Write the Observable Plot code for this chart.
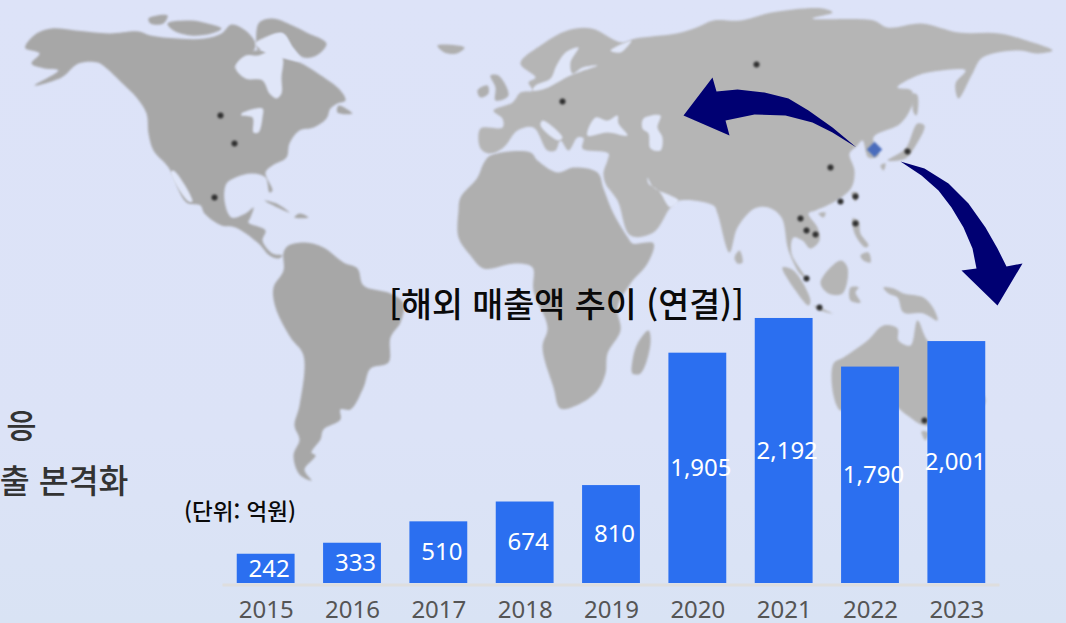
<!DOCTYPE html>
<html lang="ko"><head><meta charset="utf-8">
<script src="https://cdn.jsdelivr.net/npm/d3@7"></script>
<script src="https://cdn.jsdelivr.net/npm/@observablehq/plot@0.6"></script>
<style>
html,body{margin:0;padding:0;width:1066px;height:623px;overflow:hidden;background:linear-gradient(#dde3f8,#dce3f7 70%,#d9e3f4)}
#stage{position:relative;width:1066px;height:623px}
#stage svg{position:absolute;left:0;top:0;background:transparent}
</style></head><body><div id="stage"></div>
<script>
// Chart data
const years = ["2015","2016","2017","2018","2019","2020","2021","2022","2023"];
const sales = [242,333,510,674,810,1905,2192,1790,2001];

// Map outlines (map units)
const northAmerica=[[25,45],[36,33],[51,28],[75,30],[109,33],[138,31],[150,35],[177,38],[204,38],[221,33],[231,24],[245,30],[255,43],[252,52],[238,62],[234,68],[255,50],[282,57],[299,62],[316,72],[340,90],[345,100],[337,103],[330,108],[326,118],[313,127],[299,130],[289,143],[286,157],[272,165],[265,172],[272,190],[269,192],[265,177],[252,173],[235,177],[226,183],[224,200],[231,217],[245,213],[253,207],[250,217],[248,222],[265,230],[262,240],[272,253],[282,255],[278,258],[269,255],[258,243],[235,227],[221,225],[204,213],[200,205],[186,202],[168,167],[153,150],[148,133],[146,113],[136,97],[122,83],[105,67],[97,62],[78,63],[61,77],[34,85],[58,70],[44,68],[31,63],[39,53],[25,48]];
const arcticA=[[148,18],[167,15],[163,23],[150,23]];
const arcticB=[[167,23],[190,20],[207,23],[221,28],[211,33],[190,35],[173,30]];
const baffin=[[258,23],[272,18],[292,25],[306,32],[326,43],[316,55],[303,57],[292,47],[282,33],[269,37],[258,50]];
const newfoundland=[[338,105],[352,113],[337,112]];
const cuba=[[264,200],[276,203],[289,212],[277,207]];
const hispaniola=[[294,217],[299,213],[308,217]];
const southAmerica=[[283,252],[288,245],[305,242],[323,247],[343,262],[357,268],[363,285],[390,293],[403,303],[400,322],[390,337],[388,362],[370,368],[363,387],[350,409],[340,409],[340,419],[323,429],[320,439],[311,452],[315,455],[304,469],[311,480],[299,474],[293,455],[299,439],[294,425],[299,405],[303,355],[290,337],[275,307],[273,287],[283,270]];
const americas={northAmerica,arcticA,arcticB,baffin,newfoundland,cuba,hispaniola,southAmerica};

const iceland=[[437,45],[464,47],[456,53],[444,52]];
const britain=[[490,75],[498,75],[508,95],[495,100],[495,87]];
const ireland=[[477,90],[487,85],[488,93],[480,97]];
const africa=[[460,197],[477,177],[483,163],[490,155],[530,152],[537,160],[557,172],[573,167],[597,172],[603,188],[613,213],[628,238],[632,243],[653,243],[647,263],[630,283],[617,307],[620,330],[607,353],[605,373],[597,390],[580,403],[560,408],[553,387],[542,347],[547,327],[533,290],[532,267],[515,263],[483,268],[470,255],[458,237],[458,210]];
const madagascar=[[648,330],[650,343],[640,373],[632,373],[632,360],[637,343]];
const africaEurope={iceland,britain,ireland,africa,madagascar};

const eurasia=[[480,148],[480,128],[502,127],[502,118],[493,110],[512,102],[520,92],[532,90],[528,82],[535,77],[520,63],[543,43],[567,30],[591,28],[621,42],[635,38],[676,33],[696,27],[713,20],[740,20],[771,12],[822,8],[832,12],[812,18],[873,20],[887,27],[921,23],[958,32],[999,33],[1026,40],[1052,50],[1036,53],[1019,50],[982,57],[972,73],[958,98],[955,83],[965,70],[941,70],[917,75],[897,87],[911,90],[912,103],[900,123],[873,137],[878,155],[868,157],[862,140],[856,146],[849,153],[854,170],[851,187],[836,200],[815,210],[808,213],[817,227],[819,240],[810,248],[802,240],[793,237],[791,253],[805,277],[800,274],[788,250],[781,217],[768,207],[754,208],[737,227],[729,252],[717,213],[713,205],[679,200],[670,207],[653,232],[630,235],[617,200],[605,183],[603,172],[607,160],[608,153],[582,148],[583,138],[577,137],[568,150],[560,140],[555,150],[547,150],[533,127],[517,130],[503,147],[490,153]];
const sriLanka=[[734,257],[739,250],[742,262],[737,263]];
const sumatra=[[782,267],[793,270],[810,300],[808,305],[795,290]];
const java=[[813,305],[832,313],[820,310]];
const borneo=[[820,282],[840,260],[847,267],[842,293],[828,293]];
const sulawesi=[[850,287],[858,287],[855,292],[860,302],[850,300]];
const luzon=[[852,218],[858,220],[860,233],[868,245],[865,247],[855,235]];
const mindanao=[[860,255],[868,252],[870,262],[863,260]];
const taiwan=[[851,192],[857,192],[855,201]];
const hainan=[[818,213],[825,212],[823,217]];
const newGuinea=[[883,287],[893,288],[903,293],[923,297],[933,308],[937,320],[923,313],[903,312],[897,297],[888,293]];
const australia=[[833,363],[843,357],[867,340],[883,325],[897,328],[898,340],[910,345],[917,320],[927,340],[985,400],[960,420],[924,425],[907,415],[885,400],[850,405],[840,410],[833,395]];
const tasmania=[[921,431],[928,432],[925,440]];
const honshu=[[887,160],[905,148],[917,123],[924,125],[914,147],[905,158]];
const kyushu=[[880,165],[885,163],[883,170]];
const sakhalin=[[913,93],[917,95],[916,115],[913,112]];
const asiaPacific={eurasia,sriLanka,sumatra,java,borneo,sulawesi,luzon,mindanao,taiwan,hainan,newGuinea,australia,tasmania,honshu,kyushu,sakhalin};

const hudsonBay=[[235,67],[245,55],[257,55],[272,50],[282,57],[281,77],[281,93],[276,98],[269,93],[262,80],[245,78]];
const hudsonStrait=[[255,43],[262,38],[282,33],[292,47],[300,60],[282,57],[262,50]];
const greatLakes=[[241,113],[262,108],[262,117],[258,132],[253,132],[252,117],[241,115]];
const gulfCalifornia=[[173,170],[192,201],[188,201],[170,172]];
const blackSea=[[587,135],[595,117],[607,120],[617,115],[618,123],[627,135],[607,132]];
const caspian=[[643,118],[660,115],[657,127],[662,137],[660,150],[650,148],[648,133],[642,128]];
const baltic=[[578,47],[565,52],[556,65],[550,78],[535,85],[532,90],[545,88],[570,75],[597,65],[582,67],[572,73],[570,62]];
const adriatic=[[542,120],[562,137],[558,140],[540,125]];
const persianGulf=[[647,177],[653,187],[670,195],[678,200],[670,207],[658,190],[648,183]];
const whiteSea=[[610,50],[631,40],[620,52]];
const waterShapes={hudsonBay,hudsonStrait,greatLakes,gulfCalifornia,blackSea,caspian,baltic,adriatic,persianGulf,whiteSea};

const arrowWest=[[683,115],[712,77],[716,91],[737,89],[764,92],[788,98],[808,110],[832,127],[856,147],[832,132],[812,122],[785,115],[754,114],[725,120],[729,135]];
const arrowSouth=[[900,161],[924,168],[948,183],[968,203],[985,227],[997,248],[1006,266],[1022,263],[997,305],[961,270],[976,268],[972,248],[963,227],[951,207],[938,190],[921,175]];
const arrowShapes={arrowWest,arrowSouth};

const sites=[[220,115],[234,143],[214,197],[756,64],[562,101],[830,167],[840,201],[855,196],[855,223],[800,218],[806,230],[815,234],[806,278],[819,307],[907,151],[924,420]];
const koreaMark=[[874,149]];

const titleText="[해외 매출액 추이 (연결)]";
const unitText="(단위: 억원)";
const sideNotes=["응","출 본격화"];

const flat=o=>Object.entries(o).flatMap(([name,pts])=>pts.map(([x,y])=>({name,x,y})));
const cjk='"Noto Sans CJK KR","Noto Sans",sans-serif';
const shape=(o,fill,className,curve="catmull-rom-closed")=>Plot.line(flat(o),{x:"x",y:"y",z:"name",fill,stroke:"none",className,curve});

const map=Plot.plot({
  width:1066,height:623,margin:0,
  x:{domain:[0,1066],range:[0,1066],axis:null},
  y:{domain:[0,623],range:[0,623],axis:null},
  style:{background:"transparent",fontFamily:cjk},
  marks:[
    shape(americas,"#a7a7a7","land"),
    shape(africaEurope,"#afafaf","land"),
    shape(asiaPacific,"#b5b5b5","land"),
    shape(waterShapes,"#e0e6f8","land"),
    Plot.dot(sites,{x:d=>d[0],y:d=>d[1],r:3,fill:"#303030",stroke:"none",className:"land"}),
    Plot.dot(koreaMark,{x:d=>d[0],y:d=>d[1],r:7,symbol:"diamond2",fill:"#4a6cbc",stroke:"none",className:"land"}),
    shape(arrowShapes,"#000072","arrow","linear"),
    Plot.text([titleText],{x:()=>566,y:()=>306,fontSize:33.7,fontWeight:500,fill:"#0a0a0a",text:d=>d}),
    Plot.text([unitText],{x:()=>239.5,y:()=>512,fontSize:22.5,fontWeight:500,fill:"#0a0a0a",text:d=>d}),
    Plot.text(sideNotes,{x:(d,i)=>[36,128][i],y:(d,i)=>[427,482][i],textAnchor:"end",fontSize:(d,i)=>[33,32.5][i],fontWeight:500,fill:"#333",text:d=>d})
  ]
});
map.querySelectorAll('.land').forEach(g=>g.style.filter="blur(0.8px)");

const table=years.map((year,i)=>({year,value:sales[i]}));
const bars=Plot.plot({
  width:1066,height:623,marginLeft:222.5,marginRight:66.5,marginTop:0,marginBottom:40,
  x:{domain:years,paddingInner:0.33,paddingOuter:0.165,round:false,label:null},
  y:{domain:[0,4822],axis:null},
  style:{background:"transparent",fontFamily:'"Noto Sans",sans-serif'},
  marks:[
    Plot.ruleY([0],{stroke:"#dedede",strokeWidth:3,dy:1.5}),
    Plot.barY(table,{x:"year",y:"value",fill:"#2b6ff0"}),
    Plot.text(table.slice(0,-1),{x:"year",y:d=>d.value/2,text:d=>d3.format(",")(d.value),fill:"#fff",fontSize:24,dx:3}),
    Plot.text(table.slice(-1),{x:"year",y:d=>d.value/2,text:d=>d3.format(",")(d.value),fill:"#fff",fontSize:24,dx:-1.5}),
    Plot.axisX({tickSize:0,tickPadding:17,fontSize:24,color:"#555",label:null})
  ]
});
document.getElementById("stage").append(map,bars);
</script></body></html>
